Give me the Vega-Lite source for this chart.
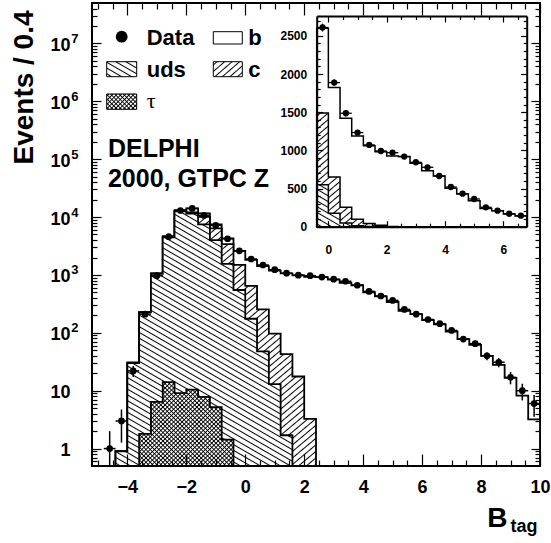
{
"$schema": "https://vega.github.io/schema/vega-lite/v6.json",
"width": 448, "height": 463,
"autosize": "none",
"padding": {"left": 92, "top": 3, "right": 11, "bottom": 77},
"background": "#ffffff",
"config": {
  "font": "Liberation Sans",
  "view": {"stroke": "#000", "strokeWidth": 2},
  "axis": {"grid": false, "labelColor": "#000", "titleColor": "#000", "tickColor": "#000", "domainColor": "#000", "tickWidth": 1.2, "labelFont": "Liberation Sans", "titleFont": "Liberation Sans", "labelFontWeight": "bold", "titleFontWeight": "bold", "labelOverlap": false, "labelFlush": false}
},
"datasets": {
  "total": [{"x":-4.4,"v":0.9},{"x":-4,"v":30.7},{"x":-3.6,"v":227},{"x":-3.2,"v":1070},{"x":-2.8,"v":4700},{"x":-2.4,"v":13200},{"x":-2,"v":14100},{"x":-1.6,"v":11600},{"x":-1.2,"v":7480},{"x":-0.8,"v":4300},{"x":-0.4,"v":2600},{"x":0,"v":1823},{"x":0.4,"v":1421},{"x":0.8,"v":1189},{"x":1.2,"v":1062},{"x":1.6,"v":983},{"x":2,"v":927},{"x":2.4,"v":918},{"x":2.8,"v":830},{"x":3.2,"v":734},{"x":3.6,"v":664},{"x":4,"v":503},{"x":4.4,"v":428},{"x":4.8,"v":341},{"x":5.2,"v":240},{"x":5.6,"v":210},{"x":6,"v":166},{"x":6.4,"v":140},{"x":6.8,"v":105},{"x":7.2,"v":78},{"x":7.6,"v":62},{"x":8,"v":40},{"x":8.4,"v":28},{"x":8.8,"v":16.6},{"x":9.2,"v":8.2},{"x":9.6,"v":3.2},{"x":10,"v":3.2}],
  "cc": [{"x":-4.4,"v":0.9},{"x":-4,"v":30},{"x":-3.6,"v":225},{"x":-3.2,"v":1040},{"x":-2.8,"v":4450},{"x":-2.4,"v":12500},{"x":-2,"v":12000},{"x":-1.6,"v":10100},{"x":-1.2,"v":6400},{"x":-0.8,"v":3400},{"x":-0.4,"v":1490},{"x":0,"v":650},{"x":0.4,"v":255},{"x":0.8,"v":97},{"x":1.2,"v":43},{"x":1.6,"v":17.6},{"x":2,"v":3.25},{"x":2.4,"v":3.25}],
  "uds": [{"x":-4.4,"v":0.9},{"x":-4,"v":30},{"x":-3.6,"v":225},{"x":-3.2,"v":1040},{"x":-2.8,"v":4450},{"x":-2.4,"v":12500},{"x":-2,"v":11500},{"x":-1.6,"v":7500},{"x":-1.2,"v":4000},{"x":-0.8,"v":1550},{"x":-0.4,"v":550},{"x":0,"v":175},{"x":0.4,"v":48},{"x":0.8,"v":13},{"x":1.2,"v":1.7},{"x":1.6,"v":1.7}],
  "tau": [{"x":-3.6,"v":1.8},{"x":-3.2,"v":6.4},{"x":-2.8,"v":14.1},{"x":-2.4,"v":9.1},{"x":-2,"v":10.4},{"x":-1.6,"v":7.8},{"x":-1.2,"v":5.2},{"x":-0.8,"v":1.43},{"x":-0.4,"v":1.43}],
  "pts": [
{"x":-4.6,"n":1,"lo":0.1,"hi":2,"x0":-4.8,"x1":-4.4},
{"x":-4.2,"n":3,"lo":1.27,"hi":4.73,"x0":-4.4,"x1":-4},
{"x":-3.8,"n":22,"lo":17.3,"hi":26.7,"x0":-4,"x1":-3.6},
{"x":-3.4,"n":210,"lo":195.5,"hi":224.5,"x0":-3.6,"x1":-3.2},
{"x":-3,"n":970,"lo":939,"hi":1001,"x0":-3.2,"x1":-2.8},
{"x":-2.6,"n":4580,"lo":4512,"hi":4648,"x0":-2.8,"x1":-2.4},
{"x":-2.2,"n":13000,"lo":12886,"hi":13114,"x0":-2.4,"x1":-2},
{"x":-1.8,"n":14100,"lo":13981,"hi":14219,"x0":-2,"x1":-1.6},
{"x":-1.4,"n":10700,"lo":10597,"hi":10803,"x0":-1.6,"x1":-1.2},
{"x":-1,"n":7190,"lo":7105,"hi":7275,"x0":-1.2,"x1":-0.8},
{"x":-0.6,"n":4225,"lo":4160,"hi":4290,"x0":-0.8,"x1":-0.4},
{"x":-0.2,"n":2609,"lo":2558,"hi":2660,"x0":-0.4,"x1":0},
{"x":0.2,"n":1888,"lo":1845,"hi":1931,"x0":0,"x1":0.4},
{"x":0.6,"n":1486,"lo":1447,"hi":1525,"x0":0.4,"x1":0.8},
{"x":1,"n":1233,"lo":1198,"hi":1268,"x0":0.8,"x1":1.2},
{"x":1.4,"n":1071,"lo":1038,"hi":1104,"x0":1.2,"x1":1.6},
{"x":1.8,"n":992,"lo":960,"hi":1024,"x0":1.6,"x1":2},
{"x":2.2,"n":970,"lo":939,"hi":1001,"x0":2,"x1":2.4},
{"x":2.6,"n":918,"lo":888,"hi":948,"x0":2.4,"x1":2.8},
{"x":3,"n":844,"lo":815,"hi":873,"x0":2.8,"x1":3.2},
{"x":3.4,"n":778,"lo":750,"hi":806,"x0":3.2,"x1":3.6},
{"x":3.8,"n":664,"lo":638,"hi":690,"x0":3.6,"x1":4},
{"x":4.2,"n":520,"lo":497,"hi":543,"x0":4,"x1":4.4},
{"x":4.6,"n":433,"lo":412,"hi":454,"x0":4.4,"x1":4.8},
{"x":5,"n":363,"lo":344,"hi":382,"x0":4.8,"x1":5.2},
{"x":5.4,"n":254,"lo":238,"hi":270,"x0":5.2,"x1":5.6},
{"x":5.8,"n":210,"lo":195.5,"hi":224.5,"x0":5.6,"x1":6},
{"x":6.2,"n":170,"lo":157,"hi":183,"x0":6,"x1":6.4},
{"x":6.6,"n":144,"lo":132,"hi":156,"x0":6.4,"x1":6.8},
{"x":7,"n":110,"lo":99.5,"hi":120.5,"x0":6.8,"x1":7.2},
{"x":7.4,"n":78,"lo":69.2,"hi":86.8,"x0":7.2,"x1":7.6},
{"x":7.8,"n":65,"lo":57,"hi":73,"x0":7.6,"x1":8},
{"x":8.2,"n":40,"lo":33.7,"hi":46.3,"x0":8,"x1":8.4},
{"x":8.6,"n":31,"lo":25.4,"hi":36.6,"x0":8.4,"x1":8.8},
{"x":9,"n":17,"lo":12.9,"hi":21.1,"x0":8.8,"x1":9.2},
{"x":9.4,"n":10,"lo":6.8,"hi":13.2,"x0":9.2,"x1":9.6},
{"x":9.8,"n":6,"lo":3.55,"hi":8.45,"x0":9.6,"x1":10}
  ]
},
"layer": [
{
 "layer": [
  {
   "data": {"name": "total"},
   "mark": {"type": "area", "interpolate": "step-after", "fill": "#fff", "stroke": "#000", "strokeWidth": 1.8, "opacity": 1, "fillOpacity": 1},
   "encoding": {
    "x": {"field": "x", "type": "quantitative", "scale": {"domain": [-5.2, 10], "nice": false, "zero": false},
          "axis": {"orient": "bottom", "values": [-4,-2,0,2,4,6,8,10], "ticks": false, "domain": false, "labelFontSize": 18, "labelPadding": 12, "title": "B", "titleFontSize": 28, "titleX": 394.7, "titleY": 60.7, "titleAlign": "left", "titleBaseline": "alphabetic"}},
    "y": {"field": "v", "type": "quantitative", "scale": {"type": "log", "domain": [0.5, 50000000], "nice": false},
          "axis": {"orient": "left", "values": [1,10,100,1000,10000,100000,1000000,10000000], "labelExpr": "datum.value == 1 ? '1' : '10'", "ticks": false, "domain": false, "labelFontSize": 18, "labelPadding": 22, "labelOffset": 2, "title": "Events / 0.4", "titleFontSize": 28, "titleAngle": -90, "titleX": -68, "titleY": 84, "titleAlign": "center", "titleBaseline": "middle"}},
    "y2": {"datum": 0.5}
   }
  },
  {
   "data": {"name": "cc"},
   "mark": {"type": "area", "interpolate": "step-after", "stroke": "#000", "strokeWidth": 1.8, "opacity": 1, "fillOpacity": 1,
     "fill": {"gradient": "linear", "x1": 0, "y1": 0, "x2": 1.1796, "y2": 1.7852, "stops": [
{"offset":0.003,"color":"#fff"},{"offset":0.005,"color":"#000"},{"offset":0.007,"color":"#fff"},
{"offset":0.013,"color":"#fff"},{"offset":0.015,"color":"#000"},{"offset":0.017,"color":"#fff"},
{"offset":0.023,"color":"#fff"},{"offset":0.025,"color":"#000"},{"offset":0.027,"color":"#fff"},
{"offset":0.033,"color":"#fff"},{"offset":0.035,"color":"#000"},{"offset":0.037,"color":"#fff"},
{"offset":0.043,"color":"#fff"},{"offset":0.045,"color":"#000"},{"offset":0.047,"color":"#fff"},
{"offset":0.053,"color":"#fff"},{"offset":0.055,"color":"#000"},{"offset":0.057,"color":"#fff"},
{"offset":0.063,"color":"#fff"},{"offset":0.065,"color":"#000"},{"offset":0.067,"color":"#fff"},
{"offset":0.073,"color":"#fff"},{"offset":0.075,"color":"#000"},{"offset":0.077,"color":"#fff"},
{"offset":0.083,"color":"#fff"},{"offset":0.085,"color":"#000"},{"offset":0.087,"color":"#fff"},
{"offset":0.093,"color":"#fff"},{"offset":0.095,"color":"#000"},{"offset":0.097,"color":"#fff"},
{"offset":0.103,"color":"#fff"},{"offset":0.105,"color":"#000"},{"offset":0.107,"color":"#fff"},
{"offset":0.113,"color":"#fff"},{"offset":0.115,"color":"#000"},{"offset":0.117,"color":"#fff"},
{"offset":0.123,"color":"#fff"},{"offset":0.125,"color":"#000"},{"offset":0.127,"color":"#fff"},
{"offset":0.133,"color":"#fff"},{"offset":0.135,"color":"#000"},{"offset":0.137,"color":"#fff"},
{"offset":0.143,"color":"#fff"},{"offset":0.145,"color":"#000"},{"offset":0.147,"color":"#fff"},
{"offset":0.153,"color":"#fff"},{"offset":0.155,"color":"#000"},{"offset":0.157,"color":"#fff"},
{"offset":0.163,"color":"#fff"},{"offset":0.165,"color":"#000"},{"offset":0.167,"color":"#fff"},
{"offset":0.173,"color":"#fff"},{"offset":0.175,"color":"#000"},{"offset":0.177,"color":"#fff"},
{"offset":0.183,"color":"#fff"},{"offset":0.185,"color":"#000"},{"offset":0.187,"color":"#fff"},
{"offset":0.193,"color":"#fff"},{"offset":0.195,"color":"#000"},{"offset":0.197,"color":"#fff"},
{"offset":0.203,"color":"#fff"},{"offset":0.205,"color":"#000"},{"offset":0.207,"color":"#fff"},
{"offset":0.213,"color":"#fff"},{"offset":0.215,"color":"#000"},{"offset":0.217,"color":"#fff"},
{"offset":0.223,"color":"#fff"},{"offset":0.225,"color":"#000"},{"offset":0.227,"color":"#fff"},
{"offset":0.233,"color":"#fff"},{"offset":0.235,"color":"#000"},{"offset":0.237,"color":"#fff"},
{"offset":0.243,"color":"#fff"},{"offset":0.245,"color":"#000"},{"offset":0.247,"color":"#fff"},
{"offset":0.253,"color":"#fff"},{"offset":0.255,"color":"#000"},{"offset":0.257,"color":"#fff"},
{"offset":0.263,"color":"#fff"},{"offset":0.265,"color":"#000"},{"offset":0.267,"color":"#fff"},
{"offset":0.273,"color":"#fff"},{"offset":0.275,"color":"#000"},{"offset":0.277,"color":"#fff"},
{"offset":0.283,"color":"#fff"},{"offset":0.285,"color":"#000"},{"offset":0.287,"color":"#fff"},
{"offset":0.293,"color":"#fff"},{"offset":0.295,"color":"#000"},{"offset":0.297,"color":"#fff"},
{"offset":0.303,"color":"#fff"},{"offset":0.305,"color":"#000"},{"offset":0.307,"color":"#fff"},
{"offset":0.313,"color":"#fff"},{"offset":0.315,"color":"#000"},{"offset":0.317,"color":"#fff"},
{"offset":0.323,"color":"#fff"},{"offset":0.325,"color":"#000"},{"offset":0.327,"color":"#fff"},
{"offset":0.333,"color":"#fff"},{"offset":0.335,"color":"#000"},{"offset":0.337,"color":"#fff"},
{"offset":0.343,"color":"#fff"},{"offset":0.345,"color":"#000"},{"offset":0.347,"color":"#fff"},
{"offset":0.353,"color":"#fff"},{"offset":0.355,"color":"#000"},{"offset":0.357,"color":"#fff"},
{"offset":0.363,"color":"#fff"},{"offset":0.365,"color":"#000"},{"offset":0.367,"color":"#fff"},
{"offset":0.373,"color":"#fff"},{"offset":0.375,"color":"#000"},{"offset":0.377,"color":"#fff"},
{"offset":0.383,"color":"#fff"},{"offset":0.385,"color":"#000"},{"offset":0.387,"color":"#fff"},
{"offset":0.393,"color":"#fff"},{"offset":0.395,"color":"#000"},{"offset":0.397,"color":"#fff"},
{"offset":0.403,"color":"#fff"},{"offset":0.405,"color":"#000"},{"offset":0.407,"color":"#fff"},
{"offset":0.413,"color":"#fff"},{"offset":0.415,"color":"#000"},{"offset":0.417,"color":"#fff"},
{"offset":0.423,"color":"#fff"},{"offset":0.425,"color":"#000"},{"offset":0.427,"color":"#fff"},
{"offset":0.433,"color":"#fff"},{"offset":0.435,"color":"#000"},{"offset":0.437,"color":"#fff"},
{"offset":0.443,"color":"#fff"},{"offset":0.445,"color":"#000"},{"offset":0.447,"color":"#fff"},
{"offset":0.453,"color":"#fff"},{"offset":0.455,"color":"#000"},{"offset":0.457,"color":"#fff"},
{"offset":0.463,"color":"#fff"},{"offset":0.465,"color":"#000"},{"offset":0.467,"color":"#fff"},
{"offset":0.473,"color":"#fff"},{"offset":0.475,"color":"#000"},{"offset":0.477,"color":"#fff"},
{"offset":0.483,"color":"#fff"},{"offset":0.485,"color":"#000"},{"offset":0.487,"color":"#fff"},
{"offset":0.493,"color":"#fff"},{"offset":0.495,"color":"#000"},{"offset":0.497,"color":"#fff"},
{"offset":0.503,"color":"#fff"},{"offset":0.505,"color":"#000"},{"offset":0.507,"color":"#fff"},
{"offset":0.513,"color":"#fff"},{"offset":0.515,"color":"#000"},{"offset":0.517,"color":"#fff"},
{"offset":0.523,"color":"#fff"},{"offset":0.525,"color":"#000"},{"offset":0.527,"color":"#fff"},
{"offset":0.533,"color":"#fff"},{"offset":0.535,"color":"#000"},{"offset":0.537,"color":"#fff"},
{"offset":0.543,"color":"#fff"},{"offset":0.545,"color":"#000"},{"offset":0.547,"color":"#fff"},
{"offset":0.553,"color":"#fff"},{"offset":0.555,"color":"#000"},{"offset":0.557,"color":"#fff"},
{"offset":0.563,"color":"#fff"},{"offset":0.565,"color":"#000"},{"offset":0.567,"color":"#fff"},
{"offset":0.573,"color":"#fff"},{"offset":0.575,"color":"#000"},{"offset":0.577,"color":"#fff"},
{"offset":0.583,"color":"#fff"},{"offset":0.585,"color":"#000"},{"offset":0.587,"color":"#fff"},
{"offset":0.593,"color":"#fff"},{"offset":0.595,"color":"#000"},{"offset":0.597,"color":"#fff"},
{"offset":0.603,"color":"#fff"},{"offset":0.605,"color":"#000"},{"offset":0.607,"color":"#fff"},
{"offset":0.613,"color":"#fff"},{"offset":0.615,"color":"#000"},{"offset":0.617,"color":"#fff"},
{"offset":0.623,"color":"#fff"},{"offset":0.625,"color":"#000"},{"offset":0.627,"color":"#fff"},
{"offset":0.633,"color":"#fff"},{"offset":0.635,"color":"#000"},{"offset":0.637,"color":"#fff"},
{"offset":0.643,"color":"#fff"},{"offset":0.645,"color":"#000"},{"offset":0.647,"color":"#fff"}
     ]}},
   "encoding": {
    "x": {"field": "x", "type": "quantitative",
          "axis": {"orient": "bottom", "values": [-4,-2,0,2,4,6,8,10], "labels": false, "domain": false, "tickSize": -12, "zindex": 1, "title": "tag", "titleFontSize": 18, "titleX": 418, "titleY": 65, "titleAlign": "left", "titleBaseline": "alphabetic"}},
    "y": {"field": "v", "type": "quantitative",
          "axis": {"orient": "left", "values": [100,1000,10000,100000,1000000,10000000], "labelExpr": "format(log(datum.value)/LN10, 'd')", "ticks": false, "domain": false, "labelFontSize": 13, "labelPadding": 14, "labelOffset": -5, "title": null}},
    "y2": {"datum": 0.5}
   }
  },
  {
   "data": {"name": "uds"},
   "mark": {"type": "area", "interpolate": "step-after", "stroke": "#000", "strokeWidth": 1.8, "opacity": 1, "fillOpacity": 1,
     "fill": {"gradient": "linear", "x1": 0, "y1": 1, "x2": 0.7838, "y2": -0.9541, "stops": [
{"offset":0.003,"color":"#fff"},{"offset":0.005,"color":"#000"},{"offset":0.007,"color":"#fff"},
{"offset":0.013,"color":"#fff"},{"offset":0.015,"color":"#000"},{"offset":0.017,"color":"#fff"},
{"offset":0.023,"color":"#fff"},{"offset":0.025,"color":"#000"},{"offset":0.027,"color":"#fff"},
{"offset":0.033,"color":"#fff"},{"offset":0.035,"color":"#000"},{"offset":0.037,"color":"#fff"},
{"offset":0.043,"color":"#fff"},{"offset":0.045,"color":"#000"},{"offset":0.047,"color":"#fff"},
{"offset":0.053,"color":"#fff"},{"offset":0.055,"color":"#000"},{"offset":0.057,"color":"#fff"},
{"offset":0.063,"color":"#fff"},{"offset":0.065,"color":"#000"},{"offset":0.067,"color":"#fff"},
{"offset":0.073,"color":"#fff"},{"offset":0.075,"color":"#000"},{"offset":0.077,"color":"#fff"},
{"offset":0.083,"color":"#fff"},{"offset":0.085,"color":"#000"},{"offset":0.087,"color":"#fff"},
{"offset":0.093,"color":"#fff"},{"offset":0.095,"color":"#000"},{"offset":0.097,"color":"#fff"},
{"offset":0.103,"color":"#fff"},{"offset":0.105,"color":"#000"},{"offset":0.107,"color":"#fff"},
{"offset":0.113,"color":"#fff"},{"offset":0.115,"color":"#000"},{"offset":0.117,"color":"#fff"},
{"offset":0.123,"color":"#fff"},{"offset":0.125,"color":"#000"},{"offset":0.127,"color":"#fff"},
{"offset":0.133,"color":"#fff"},{"offset":0.135,"color":"#000"},{"offset":0.137,"color":"#fff"},
{"offset":0.143,"color":"#fff"},{"offset":0.145,"color":"#000"},{"offset":0.147,"color":"#fff"},
{"offset":0.153,"color":"#fff"},{"offset":0.155,"color":"#000"},{"offset":0.157,"color":"#fff"},
{"offset":0.163,"color":"#fff"},{"offset":0.165,"color":"#000"},{"offset":0.167,"color":"#fff"},
{"offset":0.173,"color":"#fff"},{"offset":0.175,"color":"#000"},{"offset":0.177,"color":"#fff"},
{"offset":0.183,"color":"#fff"},{"offset":0.185,"color":"#000"},{"offset":0.187,"color":"#fff"},
{"offset":0.193,"color":"#fff"},{"offset":0.195,"color":"#000"},{"offset":0.197,"color":"#fff"},
{"offset":0.203,"color":"#fff"},{"offset":0.205,"color":"#000"},{"offset":0.207,"color":"#fff"},
{"offset":0.213,"color":"#fff"},{"offset":0.215,"color":"#000"},{"offset":0.217,"color":"#fff"},
{"offset":0.223,"color":"#fff"},{"offset":0.225,"color":"#000"},{"offset":0.227,"color":"#fff"},
{"offset":0.233,"color":"#fff"},{"offset":0.235,"color":"#000"},{"offset":0.237,"color":"#fff"},
{"offset":0.243,"color":"#fff"},{"offset":0.245,"color":"#000"},{"offset":0.247,"color":"#fff"},
{"offset":0.253,"color":"#fff"},{"offset":0.255,"color":"#000"},{"offset":0.257,"color":"#fff"},
{"offset":0.263,"color":"#fff"},{"offset":0.265,"color":"#000"},{"offset":0.267,"color":"#fff"},
{"offset":0.273,"color":"#fff"},{"offset":0.275,"color":"#000"},{"offset":0.277,"color":"#fff"},
{"offset":0.283,"color":"#fff"},{"offset":0.285,"color":"#000"},{"offset":0.287,"color":"#fff"},
{"offset":0.293,"color":"#fff"},{"offset":0.295,"color":"#000"},{"offset":0.297,"color":"#fff"},
{"offset":0.303,"color":"#fff"},{"offset":0.305,"color":"#000"},{"offset":0.307,"color":"#fff"},
{"offset":0.313,"color":"#fff"},{"offset":0.315,"color":"#000"},{"offset":0.317,"color":"#fff"},
{"offset":0.323,"color":"#fff"},{"offset":0.325,"color":"#000"},{"offset":0.327,"color":"#fff"},
{"offset":0.333,"color":"#fff"},{"offset":0.335,"color":"#000"},{"offset":0.337,"color":"#fff"},
{"offset":0.343,"color":"#fff"},{"offset":0.345,"color":"#000"},{"offset":0.347,"color":"#fff"},
{"offset":0.353,"color":"#fff"},{"offset":0.355,"color":"#000"},{"offset":0.357,"color":"#fff"},
{"offset":0.363,"color":"#fff"},{"offset":0.365,"color":"#000"},{"offset":0.367,"color":"#fff"},
{"offset":0.373,"color":"#fff"},{"offset":0.375,"color":"#000"},{"offset":0.377,"color":"#fff"},
{"offset":0.383,"color":"#fff"},{"offset":0.385,"color":"#000"},{"offset":0.387,"color":"#fff"},
{"offset":0.393,"color":"#fff"},{"offset":0.395,"color":"#000"},{"offset":0.397,"color":"#fff"},
{"offset":0.403,"color":"#fff"},{"offset":0.405,"color":"#000"},{"offset":0.407,"color":"#fff"},
{"offset":0.413,"color":"#fff"},{"offset":0.415,"color":"#000"},{"offset":0.417,"color":"#fff"},
{"offset":0.423,"color":"#fff"},{"offset":0.425,"color":"#000"},{"offset":0.427,"color":"#fff"},
{"offset":0.433,"color":"#fff"},{"offset":0.435,"color":"#000"},{"offset":0.437,"color":"#fff"},
{"offset":0.443,"color":"#fff"},{"offset":0.445,"color":"#000"},{"offset":0.447,"color":"#fff"},
{"offset":0.453,"color":"#fff"},{"offset":0.455,"color":"#000"},{"offset":0.457,"color":"#fff"},
{"offset":0.463,"color":"#fff"},{"offset":0.465,"color":"#000"},{"offset":0.467,"color":"#fff"},
{"offset":0.473,"color":"#fff"},{"offset":0.475,"color":"#000"},{"offset":0.477,"color":"#fff"},
{"offset":0.483,"color":"#fff"},{"offset":0.485,"color":"#000"},{"offset":0.487,"color":"#fff"},
{"offset":0.493,"color":"#fff"},{"offset":0.495,"color":"#000"},{"offset":0.497,"color":"#fff"},
{"offset":0.503,"color":"#fff"},{"offset":0.505,"color":"#000"},{"offset":0.507,"color":"#fff"},
{"offset":0.513,"color":"#fff"},{"offset":0.515,"color":"#000"},{"offset":0.517,"color":"#fff"},
{"offset":0.523,"color":"#fff"},{"offset":0.525,"color":"#000"},{"offset":0.527,"color":"#fff"},
{"offset":0.533,"color":"#fff"},{"offset":0.535,"color":"#000"},{"offset":0.537,"color":"#fff"},
{"offset":0.543,"color":"#fff"},{"offset":0.545,"color":"#000"},{"offset":0.547,"color":"#fff"},
{"offset":0.553,"color":"#fff"},{"offset":0.555,"color":"#000"},{"offset":0.557,"color":"#fff"},
{"offset":0.563,"color":"#fff"},{"offset":0.565,"color":"#000"},{"offset":0.567,"color":"#fff"},
{"offset":0.573,"color":"#fff"},{"offset":0.575,"color":"#000"},{"offset":0.577,"color":"#fff"},
{"offset":0.583,"color":"#fff"},{"offset":0.585,"color":"#000"},{"offset":0.587,"color":"#fff"},
{"offset":0.593,"color":"#fff"},{"offset":0.595,"color":"#000"},{"offset":0.597,"color":"#fff"},
{"offset":0.603,"color":"#fff"},{"offset":0.605,"color":"#000"},{"offset":0.607,"color":"#fff"},
{"offset":0.613,"color":"#fff"},{"offset":0.615,"color":"#000"},{"offset":0.617,"color":"#fff"}
     ]}},
   "encoding": {
    "x": {"field": "x", "type": "quantitative",
          "axis": {"orient": "bottom", "values": [-5,-4.5,-3.5,-3,-2.5,-1.5,-1,-0.5,0.5,1,1.5,2.5,3,3.5,4.5,5,5.5,6.5,7,7.5,8.5,9,9.5], "labels": false, "domain": false, "tickSize": -6, "zindex": 1, "title": null}},
    "y": {"field": "v", "type": "quantitative",
          "axis": {"orient": "left", "values": [1,10,100,1000,10000,100000,1000000,10000000], "labels": false, "domain": false, "tickSize": -9, "zindex": 1, "title": null}},
    "y2": {"datum": 0.5}
   }
  },
  {
   "data": {"name": "tau"},
   "mark": {"type": "area", "interpolate": "step-after", "stroke": "#000", "strokeWidth": 1.8, "opacity": 1, "fillOpacity": 1,
     "fill": {"gradient": "linear", "x1": 0, "y1": 1, "x2": 2.5105, "y2": -1.2344, "stops": [
{"offset":0.002,"color":"#fff"},{"offset":0.005,"color":"#000"},{"offset":0.008,"color":"#fff"},
{"offset":0.012,"color":"#fff"},{"offset":0.015,"color":"#000"},{"offset":0.018,"color":"#fff"},
{"offset":0.022,"color":"#fff"},{"offset":0.025,"color":"#000"},{"offset":0.028,"color":"#fff"},
{"offset":0.032,"color":"#fff"},{"offset":0.035,"color":"#000"},{"offset":0.038,"color":"#fff"},
{"offset":0.042,"color":"#fff"},{"offset":0.045,"color":"#000"},{"offset":0.048,"color":"#fff"},
{"offset":0.052,"color":"#fff"},{"offset":0.055,"color":"#000"},{"offset":0.058,"color":"#fff"},
{"offset":0.062,"color":"#fff"},{"offset":0.065,"color":"#000"},{"offset":0.068,"color":"#fff"},
{"offset":0.072,"color":"#fff"},{"offset":0.075,"color":"#000"},{"offset":0.078,"color":"#fff"},
{"offset":0.082,"color":"#fff"},{"offset":0.085,"color":"#000"},{"offset":0.088,"color":"#fff"},
{"offset":0.092,"color":"#fff"},{"offset":0.095,"color":"#000"},{"offset":0.098,"color":"#fff"},
{"offset":0.102,"color":"#fff"},{"offset":0.105,"color":"#000"},{"offset":0.108,"color":"#fff"},
{"offset":0.112,"color":"#fff"},{"offset":0.115,"color":"#000"},{"offset":0.118,"color":"#fff"},
{"offset":0.122,"color":"#fff"},{"offset":0.125,"color":"#000"},{"offset":0.128,"color":"#fff"},
{"offset":0.132,"color":"#fff"},{"offset":0.135,"color":"#000"},{"offset":0.138,"color":"#fff"},
{"offset":0.142,"color":"#fff"},{"offset":0.145,"color":"#000"},{"offset":0.148,"color":"#fff"},
{"offset":0.152,"color":"#fff"},{"offset":0.155,"color":"#000"},{"offset":0.158,"color":"#fff"},
{"offset":0.162,"color":"#fff"},{"offset":0.165,"color":"#000"},{"offset":0.168,"color":"#fff"},
{"offset":0.172,"color":"#fff"},{"offset":0.175,"color":"#000"},{"offset":0.178,"color":"#fff"},
{"offset":0.182,"color":"#fff"},{"offset":0.185,"color":"#000"},{"offset":0.188,"color":"#fff"},
{"offset":0.192,"color":"#fff"},{"offset":0.195,"color":"#000"},{"offset":0.198,"color":"#fff"},
{"offset":0.202,"color":"#fff"},{"offset":0.205,"color":"#000"},{"offset":0.208,"color":"#fff"},
{"offset":0.212,"color":"#fff"},{"offset":0.215,"color":"#000"},{"offset":0.218,"color":"#fff"},
{"offset":0.222,"color":"#fff"},{"offset":0.225,"color":"#000"},{"offset":0.228,"color":"#fff"},
{"offset":0.232,"color":"#fff"},{"offset":0.235,"color":"#000"},{"offset":0.238,"color":"#fff"},
{"offset":0.242,"color":"#fff"},{"offset":0.245,"color":"#000"},{"offset":0.248,"color":"#fff"},
{"offset":0.252,"color":"#fff"},{"offset":0.255,"color":"#000"},{"offset":0.258,"color":"#fff"},
{"offset":0.262,"color":"#fff"},{"offset":0.265,"color":"#000"},{"offset":0.268,"color":"#fff"},
{"offset":0.272,"color":"#fff"},{"offset":0.275,"color":"#000"},{"offset":0.278,"color":"#fff"},
{"offset":0.282,"color":"#fff"},{"offset":0.285,"color":"#000"},{"offset":0.288,"color":"#fff"},
{"offset":0.292,"color":"#fff"},{"offset":0.295,"color":"#000"},{"offset":0.298,"color":"#fff"},
{"offset":0.302,"color":"#fff"},{"offset":0.305,"color":"#000"},{"offset":0.308,"color":"#fff"},
{"offset":0.312,"color":"#fff"},{"offset":0.315,"color":"#000"},{"offset":0.318,"color":"#fff"},
{"offset":0.322,"color":"#fff"},{"offset":0.325,"color":"#000"},{"offset":0.328,"color":"#fff"},
{"offset":0.332,"color":"#fff"},{"offset":0.335,"color":"#000"},{"offset":0.338,"color":"#fff"},
{"offset":0.342,"color":"#fff"},{"offset":0.345,"color":"#000"},{"offset":0.348,"color":"#fff"},
{"offset":0.352,"color":"#fff"},{"offset":0.355,"color":"#000"},{"offset":0.358,"color":"#fff"},
{"offset":0.362,"color":"#fff"},{"offset":0.365,"color":"#000"},{"offset":0.368,"color":"#fff"},
{"offset":0.372,"color":"#fff"},{"offset":0.375,"color":"#000"},{"offset":0.378,"color":"#fff"},
{"offset":0.382,"color":"#fff"},{"offset":0.385,"color":"#000"},{"offset":0.388,"color":"#fff"},
{"offset":0.392,"color":"#fff"},{"offset":0.395,"color":"#000"},{"offset":0.398,"color":"#fff"},
{"offset":0.402,"color":"#fff"},{"offset":0.405,"color":"#000"},{"offset":0.408,"color":"#fff"},
{"offset":0.412,"color":"#fff"},{"offset":0.415,"color":"#000"},{"offset":0.418,"color":"#fff"}
     ]}},
   "encoding": {
    "x": {"field": "x", "type": "quantitative",
          "axis": {"orient": "top", "values": [-4,-2,0,2,4,6,8,10], "labels": false, "domain": false, "tickSize": -12, "zindex": 1, "title": null}},
    "y": {"field": "v", "type": "quantitative",
          "axis": {"orient": "left", "values": [0.6,0.7,0.8,0.9,2,3,4,5,6,7,8,9,20,30,40,50,60,70,80,90,200,300,400,500,600,700,800,900,2000,3000,4000,5000,6000,7000,8000,9000,20000,30000,40000,50000,60000,70000,80000,90000,200000,300000,400000,500000,600000,700000,800000,900000,2000000,3000000,4000000,5000000,6000000,7000000,8000000,9000000,20000000,30000000,40000000], "labels": false, "domain": false, "tickSize": -5, "zindex": 1, "title": null}},
    "y2": {"datum": 0.5}
   }
  },
  {
   "data": {"name": "tau"},
   "mark": {"type": "area", "interpolate": "step-after", "opacity": 1, "fillOpacity": 1,
     "fill": {"gradient": "linear", "x1": 0, "y1": 0, "x2": 2.5105, "y2": 2.2344, "stops": [
{"offset":0.002,"color":"rgba(0,0,0,0)"},{"offset":0.005,"color":"#000"},{"offset":0.008,"color":"rgba(0,0,0,0)"},
{"offset":0.012,"color":"rgba(0,0,0,0)"},{"offset":0.015,"color":"#000"},{"offset":0.018,"color":"rgba(0,0,0,0)"},
{"offset":0.022,"color":"rgba(0,0,0,0)"},{"offset":0.025,"color":"#000"},{"offset":0.028,"color":"rgba(0,0,0,0)"},
{"offset":0.032,"color":"rgba(0,0,0,0)"},{"offset":0.035,"color":"#000"},{"offset":0.038,"color":"rgba(0,0,0,0)"},
{"offset":0.042,"color":"rgba(0,0,0,0)"},{"offset":0.045,"color":"#000"},{"offset":0.048,"color":"rgba(0,0,0,0)"},
{"offset":0.052,"color":"rgba(0,0,0,0)"},{"offset":0.055,"color":"#000"},{"offset":0.058,"color":"rgba(0,0,0,0)"},
{"offset":0.062,"color":"rgba(0,0,0,0)"},{"offset":0.065,"color":"#000"},{"offset":0.068,"color":"rgba(0,0,0,0)"},
{"offset":0.072,"color":"rgba(0,0,0,0)"},{"offset":0.075,"color":"#000"},{"offset":0.078,"color":"rgba(0,0,0,0)"},
{"offset":0.082,"color":"rgba(0,0,0,0)"},{"offset":0.085,"color":"#000"},{"offset":0.088,"color":"rgba(0,0,0,0)"},
{"offset":0.092,"color":"rgba(0,0,0,0)"},{"offset":0.095,"color":"#000"},{"offset":0.098,"color":"rgba(0,0,0,0)"},
{"offset":0.102,"color":"rgba(0,0,0,0)"},{"offset":0.105,"color":"#000"},{"offset":0.108,"color":"rgba(0,0,0,0)"},
{"offset":0.112,"color":"rgba(0,0,0,0)"},{"offset":0.115,"color":"#000"},{"offset":0.118,"color":"rgba(0,0,0,0)"},
{"offset":0.122,"color":"rgba(0,0,0,0)"},{"offset":0.125,"color":"#000"},{"offset":0.128,"color":"rgba(0,0,0,0)"},
{"offset":0.132,"color":"rgba(0,0,0,0)"},{"offset":0.135,"color":"#000"},{"offset":0.138,"color":"rgba(0,0,0,0)"},
{"offset":0.142,"color":"rgba(0,0,0,0)"},{"offset":0.145,"color":"#000"},{"offset":0.148,"color":"rgba(0,0,0,0)"},
{"offset":0.152,"color":"rgba(0,0,0,0)"},{"offset":0.155,"color":"#000"},{"offset":0.158,"color":"rgba(0,0,0,0)"},
{"offset":0.162,"color":"rgba(0,0,0,0)"},{"offset":0.165,"color":"#000"},{"offset":0.168,"color":"rgba(0,0,0,0)"},
{"offset":0.172,"color":"rgba(0,0,0,0)"},{"offset":0.175,"color":"#000"},{"offset":0.178,"color":"rgba(0,0,0,0)"},
{"offset":0.182,"color":"rgba(0,0,0,0)"},{"offset":0.185,"color":"#000"},{"offset":0.188,"color":"rgba(0,0,0,0)"},
{"offset":0.192,"color":"rgba(0,0,0,0)"},{"offset":0.195,"color":"#000"},{"offset":0.198,"color":"rgba(0,0,0,0)"},
{"offset":0.202,"color":"rgba(0,0,0,0)"},{"offset":0.205,"color":"#000"},{"offset":0.208,"color":"rgba(0,0,0,0)"},
{"offset":0.212,"color":"rgba(0,0,0,0)"},{"offset":0.215,"color":"#000"},{"offset":0.218,"color":"rgba(0,0,0,0)"},
{"offset":0.222,"color":"rgba(0,0,0,0)"},{"offset":0.225,"color":"#000"},{"offset":0.228,"color":"rgba(0,0,0,0)"},
{"offset":0.232,"color":"rgba(0,0,0,0)"},{"offset":0.235,"color":"#000"},{"offset":0.238,"color":"rgba(0,0,0,0)"},
{"offset":0.242,"color":"rgba(0,0,0,0)"},{"offset":0.245,"color":"#000"},{"offset":0.248,"color":"rgba(0,0,0,0)"},
{"offset":0.252,"color":"rgba(0,0,0,0)"},{"offset":0.255,"color":"#000"},{"offset":0.258,"color":"rgba(0,0,0,0)"},
{"offset":0.262,"color":"rgba(0,0,0,0)"},{"offset":0.265,"color":"#000"},{"offset":0.268,"color":"rgba(0,0,0,0)"},
{"offset":0.272,"color":"rgba(0,0,0,0)"},{"offset":0.275,"color":"#000"},{"offset":0.278,"color":"rgba(0,0,0,0)"},
{"offset":0.282,"color":"rgba(0,0,0,0)"},{"offset":0.285,"color":"#000"},{"offset":0.288,"color":"rgba(0,0,0,0)"},
{"offset":0.292,"color":"rgba(0,0,0,0)"},{"offset":0.295,"color":"#000"},{"offset":0.298,"color":"rgba(0,0,0,0)"},
{"offset":0.302,"color":"rgba(0,0,0,0)"},{"offset":0.305,"color":"#000"},{"offset":0.308,"color":"rgba(0,0,0,0)"},
{"offset":0.312,"color":"rgba(0,0,0,0)"},{"offset":0.315,"color":"#000"},{"offset":0.318,"color":"rgba(0,0,0,0)"},
{"offset":0.322,"color":"rgba(0,0,0,0)"},{"offset":0.325,"color":"#000"},{"offset":0.328,"color":"rgba(0,0,0,0)"},
{"offset":0.332,"color":"rgba(0,0,0,0)"},{"offset":0.335,"color":"#000"},{"offset":0.338,"color":"rgba(0,0,0,0)"},
{"offset":0.342,"color":"rgba(0,0,0,0)"},{"offset":0.345,"color":"#000"},{"offset":0.348,"color":"rgba(0,0,0,0)"},
{"offset":0.352,"color":"rgba(0,0,0,0)"},{"offset":0.355,"color":"#000"},{"offset":0.358,"color":"rgba(0,0,0,0)"},
{"offset":0.362,"color":"rgba(0,0,0,0)"},{"offset":0.365,"color":"#000"},{"offset":0.368,"color":"rgba(0,0,0,0)"},
{"offset":0.372,"color":"rgba(0,0,0,0)"},{"offset":0.375,"color":"#000"},{"offset":0.378,"color":"rgba(0,0,0,0)"},
{"offset":0.382,"color":"rgba(0,0,0,0)"},{"offset":0.385,"color":"#000"},{"offset":0.388,"color":"rgba(0,0,0,0)"},
{"offset":0.392,"color":"rgba(0,0,0,0)"},{"offset":0.395,"color":"#000"},{"offset":0.398,"color":"rgba(0,0,0,0)"},
{"offset":0.402,"color":"rgba(0,0,0,0)"},{"offset":0.405,"color":"#000"},{"offset":0.408,"color":"rgba(0,0,0,0)"},
{"offset":0.412,"color":"rgba(0,0,0,0)"},{"offset":0.415,"color":"#000"},{"offset":0.418,"color":"rgba(0,0,0,0)"}
     ]}},
   "encoding": {
    "x": {"field": "x", "type": "quantitative",
          "axis": {"orient": "top", "values": [-5,-4.5,-3.5,-3,-2.5,-1.5,-1,-0.5,0.5,1,1.5,2.5,3,3.5,4.5,5,5.5,6.5,7,7.5,8.5,9,9.5], "labels": false, "domain": false, "tickSize": -6, "zindex": 1, "title": null}},
    "y": {"field": "v", "type": "quantitative",
          "axis": {"orient": "right", "values": [1,10,100,1000,10000,100000,1000000,10000000], "labels": false, "domain": false, "tickSize": -9, "zindex": 1, "title": null}},
    "y2": {"datum": 0.5}
   }
  },
  {
   "data": {"name": "pts"},
   "mark": {"type": "rule", "color": "#000", "strokeWidth": 1.5, "clip": true},
   "encoding": {
    "x": {"field": "x", "type": "quantitative", "axis": null},
    "y": {"field": "lo", "type": "quantitative",
          "axis": {"orient": "right", "values": [0.6,0.7,0.8,0.9,2,3,4,5,6,7,8,9,20,30,40,50,60,70,80,90,200,300,400,500,600,700,800,900,2000,3000,4000,5000,6000,7000,8000,9000,20000,30000,40000,50000,60000,70000,80000,90000,200000,300000,400000,500000,600000,700000,800000,900000,2000000,3000000,4000000,5000000,6000000,7000000,8000000,9000000,20000000,30000000,40000000], "labels": false, "domain": false, "tickSize": -5, "zindex": 1, "title": null}},
    "y2": {"field": "hi"}
   }
  },
  {
   "data": {"name": "pts"},
   "mark": {"type": "rule", "color": "#000", "strokeWidth": 1.5},
   "encoding": {
    "x": {"field": "x0", "type": "quantitative", "axis": null},
    "x2": {"field": "x1"},
    "y": {"field": "n", "type": "quantitative", "axis": null}
   }
  },
  {
   "data": {"name": "pts"},
   "mark": {"type": "point", "filled": true, "size": 45, "color": "#000", "opacity": 1, "shape": "circle"},
   "encoding": {
    "x": {"field": "x", "type": "quantitative", "axis": null},
    "y": {"field": "n", "type": "quantitative", "axis": null}
   }
  },
  {
   "data": {"values": [{}]},
   "mark": {"type": "point", "filled": true, "size": 140, "color": "#000", "opacity": 1, "shape": "circle"},
   "encoding": {
    "x": {"datum": -4.1923, "type": "quantitative", "axis": null},
    "y": {"datum": 13080000, "type": "quantitative", "axis": null}
   }
  },
  {
   "data": {"values": [{}]},
   "mark": {"type": "rect", "fill": "#fff", "stroke": "#000", "strokeWidth": 1},
   "encoding": {
    "x": {"datum": -1.0845, "type": "quantitative", "axis": null},
    "x2": {"datum": -0.1006},
    "y": {"datum": 15960000, "type": "quantitative", "axis": null},
    "y2": {"datum": 9780000}
   }
  },
  {
   "data": {"values": [{}]},
   "mark": {"type": "rect", "stroke": "#000", "strokeWidth": 1,
     "fill": {"gradient": "linear", "x1": 0, "y1": 1, "x2": 19.048, "y2": -15.495, "stops": [
{"offset":0.003,"color":"#fff"},{"offset":0.005,"color":"#000"},{"offset":0.007,"color":"#fff"},
{"offset":0.013,"color":"#fff"},{"offset":0.015,"color":"#000"},{"offset":0.017,"color":"#fff"},
{"offset":0.023,"color":"#fff"},{"offset":0.025,"color":"#000"},{"offset":0.027,"color":"#fff"},
{"offset":0.033,"color":"#fff"},{"offset":0.035,"color":"#000"},{"offset":0.037,"color":"#fff"},
{"offset":0.043,"color":"#fff"},{"offset":0.045,"color":"#000"},{"offset":0.047,"color":"#fff"},
{"offset":0.053,"color":"#fff"},{"offset":0.055,"color":"#000"},{"offset":0.057,"color":"#fff"}
     ]}},
   "encoding": {
    "x": {"datum": -4.7013, "type": "quantitative", "axis": null},
    "x2": {"datum": -3.6834},
    "y": {"datum": 4839000, "type": "quantitative", "axis": null},
    "y2": {"datum": 2665000}
   }
  },
  {
   "data": {"values": [{}]},
   "mark": {"type": "rect", "stroke": "#000", "strokeWidth": 1,
     "fill": {"gradient": "linear", "x1": 0, "y1": 0, "x2": 19.135, "y2": 11.401, "stops": [
{"offset":0.003,"color":"#fff"},{"offset":0.005,"color":"#000"},{"offset":0.007,"color":"#fff"},
{"offset":0.013,"color":"#fff"},{"offset":0.015,"color":"#000"},{"offset":0.017,"color":"#fff"},
{"offset":0.023,"color":"#fff"},{"offset":0.025,"color":"#000"},{"offset":0.027,"color":"#fff"},
{"offset":0.033,"color":"#fff"},{"offset":0.035,"color":"#000"},{"offset":0.037,"color":"#fff"},
{"offset":0.043,"color":"#fff"},{"offset":0.045,"color":"#000"},{"offset":0.047,"color":"#fff"},
{"offset":0.053,"color":"#fff"},{"offset":0.055,"color":"#000"},{"offset":0.057,"color":"#fff"},
{"offset":0.063,"color":"#fff"},{"offset":0.065,"color":"#000"},{"offset":0.067,"color":"#fff"}
     ]}},
   "encoding": {
    "x": {"datum": -1.0845, "type": "quantitative", "axis": null},
    "x2": {"datum": -0.1006},
    "y": {"datum": 4839000, "type": "quantitative", "axis": null},
    "y2": {"datum": 2665000}
   }
  },
  {
   "data": {"values": [{}]},
   "mark": {"type": "rect", "stroke": "#000", "strokeWidth": 1,
     "fill": {"gradient": "linear", "x1": 0, "y1": 1, "x2": 11.224, "y2": -4.724, "stops": [
{"offset":0.002,"color":"#fff"},{"offset":0.005,"color":"#000"},{"offset":0.008,"color":"#fff"},
{"offset":0.012,"color":"#fff"},{"offset":0.015,"color":"#000"},{"offset":0.018,"color":"#fff"},
{"offset":0.022,"color":"#fff"},{"offset":0.025,"color":"#000"},{"offset":0.028,"color":"#fff"},
{"offset":0.032,"color":"#fff"},{"offset":0.035,"color":"#000"},{"offset":0.038,"color":"#fff"},
{"offset":0.042,"color":"#fff"},{"offset":0.045,"color":"#000"},{"offset":0.048,"color":"#fff"},
{"offset":0.052,"color":"#fff"},{"offset":0.055,"color":"#000"},{"offset":0.058,"color":"#fff"},
{"offset":0.062,"color":"#fff"},{"offset":0.065,"color":"#000"},{"offset":0.068,"color":"#fff"},
{"offset":0.072,"color":"#fff"},{"offset":0.075,"color":"#000"},{"offset":0.078,"color":"#fff"},
{"offset":0.082,"color":"#fff"},{"offset":0.085,"color":"#000"},{"offset":0.088,"color":"#fff"},
{"offset":0.092,"color":"#fff"},{"offset":0.095,"color":"#000"},{"offset":0.098,"color":"#fff"},
{"offset":0.102,"color":"#fff"},{"offset":0.105,"color":"#000"},{"offset":0.108,"color":"#fff"}
     ]}},
   "encoding": {
    "x": {"datum": -4.7013, "type": "quantitative", "axis": null},
    "x2": {"datum": -3.6834},
    "y": {"datum": 1339000, "type": "quantitative", "axis": null},
    "y2": {"datum": 728000}
   }
  },
  {
   "data": {"values": [{}]},
   "mark": {"type": "rect",
     "fill": {"gradient": "linear", "x1": 0, "y1": 0, "x2": 11.224, "y2": 5.724, "stops": [
{"offset":0.002,"color":"rgba(0,0,0,0)"},{"offset":0.005,"color":"#000"},{"offset":0.008,"color":"rgba(0,0,0,0)"},
{"offset":0.012,"color":"rgba(0,0,0,0)"},{"offset":0.015,"color":"#000"},{"offset":0.018,"color":"rgba(0,0,0,0)"},
{"offset":0.022,"color":"rgba(0,0,0,0)"},{"offset":0.025,"color":"#000"},{"offset":0.028,"color":"rgba(0,0,0,0)"},
{"offset":0.032,"color":"rgba(0,0,0,0)"},{"offset":0.035,"color":"#000"},{"offset":0.038,"color":"rgba(0,0,0,0)"},
{"offset":0.042,"color":"rgba(0,0,0,0)"},{"offset":0.045,"color":"#000"},{"offset":0.048,"color":"rgba(0,0,0,0)"},
{"offset":0.052,"color":"rgba(0,0,0,0)"},{"offset":0.055,"color":"#000"},{"offset":0.058,"color":"rgba(0,0,0,0)"},
{"offset":0.062,"color":"rgba(0,0,0,0)"},{"offset":0.065,"color":"#000"},{"offset":0.068,"color":"rgba(0,0,0,0)"},
{"offset":0.072,"color":"rgba(0,0,0,0)"},{"offset":0.075,"color":"#000"},{"offset":0.078,"color":"rgba(0,0,0,0)"},
{"offset":0.082,"color":"rgba(0,0,0,0)"},{"offset":0.085,"color":"#000"},{"offset":0.088,"color":"rgba(0,0,0,0)"},
{"offset":0.092,"color":"rgba(0,0,0,0)"},{"offset":0.095,"color":"#000"},{"offset":0.098,"color":"rgba(0,0,0,0)"},
{"offset":0.102,"color":"rgba(0,0,0,0)"},{"offset":0.105,"color":"#000"},{"offset":0.108,"color":"rgba(0,0,0,0)"}
     ]}},
   "encoding": {
    "x": {"datum": -4.7013, "type": "quantitative", "axis": null},
    "x2": {"datum": -3.6834},
    "y": {"datum": 1339000, "type": "quantitative", "axis": null},
    "y2": {"datum": 728000}
   }
  },
  {
   "data": {"values": [{}]},
   "mark": {"type": "text", "text": "Data", "align": "left", "baseline": "alphabetic", "fontSize": 22, "fontWeight": "bold", "font": "Liberation Sans", "color": "#000"},
   "encoding": {
    "x": {"datum": -3.3441, "type": "quantitative", "axis": null},
    "y": {"datum": 9400000, "type": "quantitative", "axis": null}
   }
  },
  {
   "data": {"values": [{}]},
   "mark": {"type": "text", "text": "uds", "align": "left", "baseline": "alphabetic", "fontSize": 22, "fontWeight": "bold", "font": "Liberation Sans", "color": "#000"},
   "encoding": {
    "x": {"datum": -3.3441, "type": "quantitative", "axis": null},
    "y": {"datum": 2665000, "type": "quantitative", "axis": null}
   }
  },
  {
   "data": {"values": [{}]},
   "mark": {"type": "text", "text": "τ", "align": "left", "baseline": "alphabetic", "fontSize": 22, "fontWeight": "normal", "font": "Liberation Serif", "color": "#000"},
   "encoding": {
    "x": {"datum": -3.3441, "type": "quantitative", "axis": null},
    "y": {"datum": 758000, "type": "quantitative", "axis": null}
   }
  },
  {
   "data": {"values": [{}]},
   "mark": {"type": "text", "text": "b", "align": "left", "baseline": "alphabetic", "fontSize": 22, "fontWeight": "bold", "font": "Liberation Sans", "color": "#000"},
   "encoding": {
    "x": {"datum": 0.103, "type": "quantitative", "axis": null},
    "y": {"datum": 9400000, "type": "quantitative", "axis": null}
   }
  },
  {
   "data": {"values": [{}]},
   "mark": {"type": "text", "text": "c", "align": "left", "baseline": "alphabetic", "fontSize": 22, "fontWeight": "bold", "font": "Liberation Sans", "color": "#000"},
   "encoding": {
    "x": {"datum": 0.103, "type": "quantitative", "axis": null},
    "y": {"datum": 2665000, "type": "quantitative", "axis": null}
   }
  },
  {
   "data": {"values": [{}]},
   "mark": {"type": "text", "text": "DELPHI", "align": "left", "baseline": "middle", "fontSize": 25, "fontWeight": "bold", "font": "Liberation Sans", "color": "#000"},
   "encoding": {
    "x": {"datum": -4.66, "type": "quantitative", "axis": null},
    "y": {"datum": 153000, "type": "quantitative", "axis": null}
   }
  },
  {
   "data": {"values": [{}]},
   "mark": {"type": "text", "text": "2000, GTPC Z", "align": "left", "baseline": "middle", "fontSize": 25, "fontWeight": "bold", "font": "Liberation Sans", "color": "#000"},
   "encoding": {
    "x": {"datum": -4.66, "type": "quantitative", "axis": null},
    "y": {"datum": 45500, "type": "quantitative", "axis": null}
   }
  }
 ],
 "resolve": {"scale": {"x": "shared", "y": "shared"}, "axis": {"x": "independent", "y": "independent"}}
},
{
 "layer": [
  {
   "data": {"name": "total"},
   "transform": [{"filter": "datum.x >= -0.4 && datum.x <= 6.8"}],
   "mark": {"type": "area", "interpolate": "step-after", "fill": "#fff", "stroke": "#000", "strokeWidth": 1.5, "opacity": 1, "fillOpacity": 1},
   "encoding": {
    "x": {"field": "x", "type": "quantitative", "scale": {"domain": [-0.4, 6.8], "range": [224.7, 434.7], "nice": false, "zero": false},
          "axis": {"orient": "bottom", "offset": -239.3, "values": [0,2,4,6], "format": "d", "ticks": false, "domain": true, "domainWidth": 2, "labelFontSize": 12, "labelPadding": 18, "title": null, "zindex": 1}},
    "y": {"field": "v", "type": "quantitative", "scale": {"domain": [0, 2760], "range": [223.7, 13], "nice": false},
          "axis": {"orient": "left", "offset": -224.7, "values": [0,500,1000,1500,2000,2500], "format": "d", "ticks": false, "domain": true, "domainWidth": 2, "labelFontSize": 12, "labelPadding": 10, "title": null, "zindex": 1}},
    "y2": {"datum": 0}
   }
  },
  {
   "data": {"name": "cc"},
   "transform": [{"filter": "datum.x >= -0.4"}],
   "mark": {"type": "area", "interpolate": "step-after", "stroke": "#000", "strokeWidth": 1.5, "opacity": 1, "fillOpacity": 1,
     "fill": {"gradient": "linear", "x1": 0, "y1": 0, "x2": 2.538, "y2": 4.211, "stops": [
{"offset":0.003,"color":"#fff"},{"offset":0.005,"color":"#000"},{"offset":0.007,"color":"#fff"},
{"offset":0.013,"color":"#fff"},{"offset":0.015,"color":"#000"},{"offset":0.017,"color":"#fff"},
{"offset":0.023,"color":"#fff"},{"offset":0.025,"color":"#000"},{"offset":0.027,"color":"#fff"},
{"offset":0.033,"color":"#fff"},{"offset":0.035,"color":"#000"},{"offset":0.037,"color":"#fff"},
{"offset":0.043,"color":"#fff"},{"offset":0.045,"color":"#000"},{"offset":0.047,"color":"#fff"},
{"offset":0.053,"color":"#fff"},{"offset":0.055,"color":"#000"},{"offset":0.057,"color":"#fff"},
{"offset":0.063,"color":"#fff"},{"offset":0.065,"color":"#000"},{"offset":0.067,"color":"#fff"},
{"offset":0.073,"color":"#fff"},{"offset":0.075,"color":"#000"},{"offset":0.077,"color":"#fff"},
{"offset":0.083,"color":"#fff"},{"offset":0.085,"color":"#000"},{"offset":0.087,"color":"#fff"},
{"offset":0.093,"color":"#fff"},{"offset":0.095,"color":"#000"},{"offset":0.097,"color":"#fff"},
{"offset":0.103,"color":"#fff"},{"offset":0.105,"color":"#000"},{"offset":0.107,"color":"#fff"},
{"offset":0.113,"color":"#fff"},{"offset":0.115,"color":"#000"},{"offset":0.117,"color":"#fff"},
{"offset":0.123,"color":"#fff"},{"offset":0.125,"color":"#000"},{"offset":0.127,"color":"#fff"},
{"offset":0.133,"color":"#fff"},{"offset":0.135,"color":"#000"},{"offset":0.137,"color":"#fff"},
{"offset":0.143,"color":"#fff"},{"offset":0.145,"color":"#000"},{"offset":0.147,"color":"#fff"},
{"offset":0.153,"color":"#fff"},{"offset":0.155,"color":"#000"},{"offset":0.157,"color":"#fff"},
{"offset":0.163,"color":"#fff"},{"offset":0.165,"color":"#000"},{"offset":0.167,"color":"#fff"},
{"offset":0.173,"color":"#fff"},{"offset":0.175,"color":"#000"},{"offset":0.177,"color":"#fff"},
{"offset":0.183,"color":"#fff"},{"offset":0.185,"color":"#000"},{"offset":0.187,"color":"#fff"},
{"offset":0.193,"color":"#fff"},{"offset":0.195,"color":"#000"},{"offset":0.197,"color":"#fff"},
{"offset":0.203,"color":"#fff"},{"offset":0.205,"color":"#000"},{"offset":0.207,"color":"#fff"},
{"offset":0.213,"color":"#fff"},{"offset":0.215,"color":"#000"},{"offset":0.217,"color":"#fff"},
{"offset":0.223,"color":"#fff"},{"offset":0.225,"color":"#000"},{"offset":0.227,"color":"#fff"},
{"offset":0.233,"color":"#fff"},{"offset":0.235,"color":"#000"},{"offset":0.237,"color":"#fff"},
{"offset":0.243,"color":"#fff"},{"offset":0.245,"color":"#000"},{"offset":0.247,"color":"#fff"},
{"offset":0.253,"color":"#fff"},{"offset":0.255,"color":"#000"},{"offset":0.257,"color":"#fff"},
{"offset":0.263,"color":"#fff"},{"offset":0.265,"color":"#000"},{"offset":0.267,"color":"#fff"},
{"offset":0.273,"color":"#fff"},{"offset":0.275,"color":"#000"},{"offset":0.277,"color":"#fff"}
     ]}},
   "encoding": {
    "x": {"field": "x", "type": "quantitative",
          "axis": {"orient": "bottom", "offset": -239.3, "values": [0,2,4,6], "labels": false, "domain": false, "tickSize": -6, "zindex": 1, "title": null}},
    "y": {"field": "v", "type": "quantitative",
          "axis": {"orient": "left", "offset": -224.7, "values": [500,1000,1500,2000,2500], "labels": false, "domain": false, "tickSize": -6, "zindex": 1, "title": null}},
    "y2": {"datum": 0}
   }
  },
  {
   "data": {"name": "uds"},
   "transform": [{"filter": "datum.x >= -0.4"}],
   "mark": {"type": "area", "interpolate": "step-after", "stroke": "#000", "strokeWidth": 1.5, "opacity": 1, "fillOpacity": 1,
     "fill": {"gradient": "linear", "x1": 0, "y1": 1, "x2": 6.709, "y2": -7.367, "stops": [
{"offset":0.003,"color":"#fff"},{"offset":0.005,"color":"#000"},{"offset":0.007,"color":"#fff"},
{"offset":0.013,"color":"#fff"},{"offset":0.015,"color":"#000"},{"offset":0.017,"color":"#fff"},
{"offset":0.023,"color":"#fff"},{"offset":0.025,"color":"#000"},{"offset":0.027,"color":"#fff"},
{"offset":0.033,"color":"#fff"},{"offset":0.035,"color":"#000"},{"offset":0.037,"color":"#fff"},
{"offset":0.043,"color":"#fff"},{"offset":0.045,"color":"#000"},{"offset":0.047,"color":"#fff"},
{"offset":0.053,"color":"#fff"},{"offset":0.055,"color":"#000"},{"offset":0.057,"color":"#fff"},
{"offset":0.063,"color":"#fff"},{"offset":0.065,"color":"#000"},{"offset":0.067,"color":"#fff"},
{"offset":0.073,"color":"#fff"},{"offset":0.075,"color":"#000"},{"offset":0.077,"color":"#fff"},
{"offset":0.083,"color":"#fff"},{"offset":0.085,"color":"#000"},{"offset":0.087,"color":"#fff"},
{"offset":0.093,"color":"#fff"},{"offset":0.095,"color":"#000"},{"offset":0.097,"color":"#fff"},
{"offset":0.103,"color":"#fff"},{"offset":0.105,"color":"#000"},{"offset":0.107,"color":"#fff"},
{"offset":0.113,"color":"#fff"},{"offset":0.115,"color":"#000"},{"offset":0.117,"color":"#fff"},
{"offset":0.123,"color":"#fff"},{"offset":0.125,"color":"#000"},{"offset":0.127,"color":"#fff"},
{"offset":0.133,"color":"#fff"},{"offset":0.135,"color":"#000"},{"offset":0.137,"color":"#fff"}
     ]}},
   "encoding": {
    "x": {"field": "x", "type": "quantitative",
          "axis": {"orient": "bottom", "offset": -239.3, "values": [0.5,1,1.5,2.5,3,3.5,4.5,5,5.5,6.5], "labels": false, "domain": false, "tickSize": -3.5, "zindex": 1, "title": null}},
    "y": {"field": "v", "type": "quantitative",
          "axis": {"orient": "left", "offset": -224.7, "values": [100,200,300,400,600,700,800,900,1100,1200,1300,1400,1600,1700,1800,1900,2100,2200,2300,2400,2600,2700], "labels": false, "domain": false, "tickSize": -3.5, "zindex": 1, "title": null}},
    "y2": {"datum": 0}
   }
  },
  {
   "data": {"name": "pts"},
   "transform": [{"filter": "datum.x >= -0.4 && datum.x <= 6.8"}],
   "mark": {"type": "rule", "color": "#000", "strokeWidth": 1.3},
   "encoding": {
    "x": {"field": "x", "type": "quantitative",
          "axis": {"orient": "top", "offset": -13, "values": [0,2,4,6], "labels": false, "domain": true, "domainWidth": 2, "tickSize": -6, "zindex": 1, "title": null}},
    "y": {"field": "lo", "type": "quantitative",
          "axis": {"orient": "right", "offset": -13.3, "values": [500,1000,1500,2000,2500], "labels": false, "domain": true, "domainWidth": 2, "tickSize": -6, "zindex": 1, "title": null}},
    "y2": {"field": "hi"}
   }
  },
  {
   "data": {"name": "pts"},
   "transform": [{"filter": "datum.x >= -0.4 && datum.x <= 6.8"}],
   "mark": {"type": "rule", "color": "#000", "strokeWidth": 1.3},
   "encoding": {
    "x": {"field": "x0", "type": "quantitative",
          "axis": {"orient": "top", "offset": -13, "values": [0.5,1,1.5,2.5,3,3.5,4.5,5,5.5,6.5], "labels": false, "domain": false, "tickSize": -3.5, "zindex": 1, "title": null}},
    "x2": {"field": "x1"},
    "y": {"field": "n", "type": "quantitative",
          "axis": {"orient": "right", "offset": -13.3, "values": [100,200,300,400,600,700,800,900,1100,1200,1300,1400,1600,1700,1800,1900,2100,2200,2300,2400,2600,2700], "labels": false, "domain": false, "tickSize": -3.5, "zindex": 1, "title": null}}
   }
  },
  {
   "data": {"name": "pts"},
   "transform": [{"filter": "datum.x >= -0.4 && datum.x <= 6.8"}],
   "mark": {"type": "point", "filled": true, "size": 40, "color": "#000", "opacity": 1, "shape": "circle"},
   "encoding": {
    "x": {"field": "x", "type": "quantitative", "axis": null},
    "y": {"field": "n", "type": "quantitative", "axis": null}
   }
  }
 ],
 "resolve": {"scale": {"x": "shared", "y": "shared"}, "axis": {"x": "independent", "y": "independent"}}
}
],
"resolve": {"scale": {"x": "independent", "y": "independent"}}
}
